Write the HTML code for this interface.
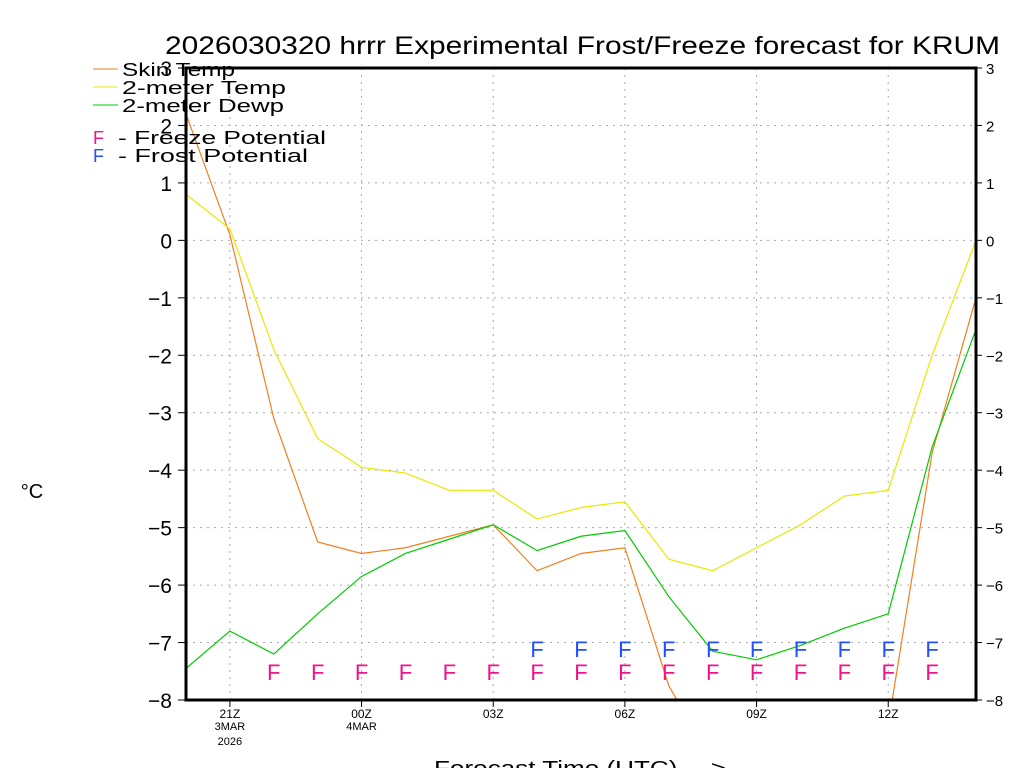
<!DOCTYPE html>
<html><head><meta charset="utf-8"><style>
body{margin:0;background:#fff;}
text{font-family:"Liberation Sans",sans-serif;}
</style></head><body>
<svg id="chart" width="1024" height="768" xmlns="http://www.w3.org/2000/svg">
<text x="165" y="54" font-size="25" textLength="835" lengthAdjust="spacingAndGlyphs" fill="#000">2026030320 hrrr Experimental Frost/Freeze forecast for KRUM</text>
<text x="32" y="498" font-size="20" text-anchor="middle">°C</text>
<text x="434" y="775" font-size="20" textLength="292" lengthAdjust="spacingAndGlyphs">Forecast Time (UTC) ---&gt;</text>
<g id="grid"></g><g id="series"></g><g id="marks"></g><g id="axes"></g>
<g font-size="18">
<line x1="93" y1="69" x2="118" y2="69" stroke="#f07f1f"/><text x="122" y="76" textLength="113" lengthAdjust="spacingAndGlyphs">Skin Temp</text>
<line x1="93" y1="87" x2="118" y2="87" stroke="#e8e800"/><text x="122" y="94" textLength="164" lengthAdjust="spacingAndGlyphs">2-meter Temp</text>
<line x1="93" y1="105" x2="118" y2="105" stroke="#00cc00"/><text x="122" y="112" textLength="162" lengthAdjust="spacingAndGlyphs">2-meter Dewp</text>
<text x="93" y="144" fill="#f0148c">F</text><text x="118" y="144" textLength="208" lengthAdjust="spacingAndGlyphs">- Freeze Potential</text>
<text x="93" y="162" fill="#2050ff">F</text><text x="118" y="162" textLength="190" lengthAdjust="spacingAndGlyphs">- Frost Potential</text>
</g>
</svg>
<script>
const hours=[20,21,22,23,24,25,26,27,28,29,30,31,32,33,34,35,36,37,38];
const skinTemp=[2.2,0.1,-3.1,-5.25,-5.45,-5.35,-5.15,-4.95,-5.75,-5.45,-5.35,-7.75,-9.1,-9.5,-9.5,-9.5,-8.43,-3.7,-1.0];
const temp2m=[0.8,0.2,-1.9,-3.45,-3.95,-4.05,-4.35,-4.35,-4.85,-4.65,-4.55,-5.55,-5.75,-5.35,-4.95,-4.45,-4.35,-2.0,0.0];
const dew2m=[-7.45,-6.8,-7.2,-6.5,-5.85,-5.45,-5.2,-4.95,-5.4,-5.15,-5.05,-6.2,-7.15,-7.3,-7.05,-6.75,-6.5,-3.6,-1.55];
const freezeHours=[22,23,24,25,26,27,28,29,30,31,32,33,34,35,36,37];
const frostHours=[28,29,30,31,32,33,34,35,36,37];
const yTicks=[3,2,1,0,-1,-2,-3,-4,-5,-6,-7,-8];
const xTicks=[21,24,27,30,33,36];
const xTickLabels=["21Z","00Z","03Z","06Z","09Z","12Z"];
const L=186,R=976,T=68,B=700,H0=20,H1=38,YMAX=3,YMIN=-8;
const xs=h=>L+(h-H0)*(R-L)/(H1-H0);
const ys=v=>T+(YMAX-v)*(B-T)/(YMAX-YMIN);
const NS="http://www.w3.org/2000/svg";
function mk(p,tag,a){const e=document.createElementNS(NS,tag);for(const k in a)e.setAttribute(k,a[k]);p.appendChild(e);return e;}
const grid=document.getElementById('grid'),axes=document.getElementById('axes'),ser=document.getElementById('series'),marks=document.getElementById('marks');
yTicks.forEach(v=>{
 const y=ys(v);
 if(v<YMAX&&v>YMIN){const g=mk(grid,'line',{x1:L,x2:R,y1:y,y2:y,stroke:'#aaa','stroke-dasharray':'2,5'});
 
 }
 mk(axes,'line',{x1:L-8,x2:L,y1:y,y2:y,stroke:'#000'});
 mk(axes,'line',{x1:R,x2:R+6,y1:y,y2:y,stroke:'#000'});
 const lab=v<0?'\u2212'+(-v):''+v;
 const t1=mk(axes,'text',{x:L-14,y:y+8,'font-size':21,'text-anchor':'end'});t1.textContent=lab;
 
 
 const t2=mk(axes,'text',{x:R+10,y:y+6,'font-size':15});t2.textContent=lab;
 
 
});
xTicks.forEach((h,i)=>{
 const x=xs(h);
 const g=mk(grid,'line',{x1:x,x2:x,y1:T,y2:B,stroke:'#aaa','stroke-dasharray':'2,5'});
 
 
 mk(axes,'line',{x1:x,x2:x,y1:B,y2:B+7,stroke:'#000'});
 const t=mk(axes,'text',{x:x,y:B+18,'font-size':12,'text-anchor':'middle'});t.textContent=xTickLabels[i];
 
 
});
[["3MAR",21,730],["2026",21,745],["4MAR",24,730]].forEach(d=>{const t=mk(axes,'text',{x:xs(d[1]),y:d[2],'font-size':11,'text-anchor':'middle'});t.textContent=d[0];
 
 });
const fr=mk(axes,'rect',{x:L,y:T,width:R-L,height:B-T,fill:'none',stroke:'#000','stroke-width':3});


mk(document.getElementById('chart'),'clipPath',{id:'clip'}).appendChild(document.createElementNS(NS,'rect'));
const cr=document.querySelector('#clip rect');cr.setAttribute('x',L);cr.setAttribute('y',T);cr.setAttribute('width',R-L);cr.setAttribute('height',B-T);
ser.setAttribute('clip-path','url(#clip)');
[[skinTemp,'#f07f1f','skin-temp-line'],[temp2m,'#e8e800','2m-temp-line'],[dew2m,'#00cc00','2m-dewpoint-line']].forEach(s=>{
 const p=mk(ser,'polyline',{points:s[0].map((v,i)=>xs(hours[i])+','+ys(v)).join(' '),fill:'none',stroke:s[1],'stroke-width':1.2});
 
 
});
freezeHours.forEach(h=>{const t=mk(marks,'text',{x:xs(h),y:680,'font-size':22,'text-anchor':'middle',fill:'#f0148c'});t.textContent='F';
 
 });
frostHours.forEach(h=>{const t=mk(marks,'text',{x:xs(h),y:657,'font-size':22,'text-anchor':'middle',fill:'#2050ff'});t.textContent='F';
 
 });
</script>
</body></html>
